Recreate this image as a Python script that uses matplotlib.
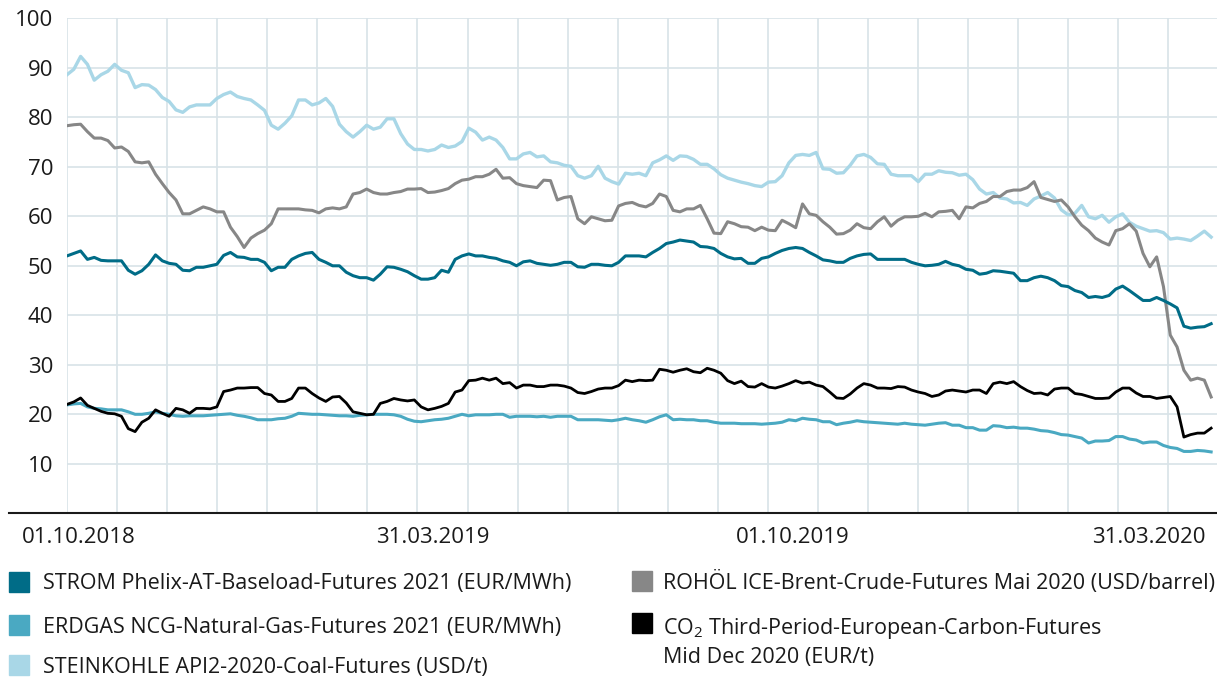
import matplotlib
matplotlib.use("Agg")
import matplotlib.pyplot as plt
from matplotlib.patches import Rectangle
from matplotlib.lines import Line2D
import pandas as pd

# 字体
plt.rcParams["font.family"] = ["Open Sans", "DejaVu Sans"]
plt.rcParams["axes.unicode_minus"] = False

# Daten, halbwöchentlich
start = pd.Timestamp("2018-09-25")
end = pd.Timestamp("2020-05-02")
n_points = 169

kohle = [88.6, 89.7, 92.3, 90.7, 87.5, 88.6, 89.3, 90.7, 89.5, 89,
         86, 86.6, 86.5, 85.6, 84, 83.2, 81.5, 81, 82.1, 82.5,
         82.5, 82.5, 83.8, 84.6, 85.1, 84.2, 83.8, 83.5, 82.5, 81.4,
         78.4, 77.6, 78.8, 80.3, 83.5, 83.5, 82.5, 82.9, 83.8, 82.2,
         78.6, 77.1, 76, 77.1, 78.4, 77.6, 78, 79.7, 79.7, 76.7,
         74.6, 73.5, 73.5, 73.2, 73.5, 74.4, 73.9, 74.2, 75.1, 77.8,
         77, 75.4, 76, 75.4, 73.9, 71.6, 71.6, 72.6, 72.9, 72,
         72.2, 71, 70.8, 70.3, 70.1, 68.2, 67.7, 68.2, 70.1, 67.7,
         67, 66.5, 68.7, 68.5, 68.7, 68.2, 70.8, 71.4, 72.2, 71.3,
         72.2, 72.1, 71.5, 70.5, 70.5, 69.6, 68.4, 67.7, 67.3, 66.9,
         66.6, 66.2, 66, 66.9, 67, 68.2, 70.8, 72.3, 72.5, 72.3,
         72.9, 69.6, 69.5, 68.7, 68.8, 70.3, 72.2, 72.5, 71.9, 70.6,
         70.5, 68.5, 68.2, 68.2, 68.2, 67, 68.5, 68.5, 69.2, 68.9,
         68.8, 68.3, 68.5, 67.4, 65.5, 64.5, 64.8, 63.7, 63.5, 62.7,
         62.8, 62.2, 63.5, 64.1, 64.8, 63.7, 61.3, 60.3, 60.6, 62.2,
         59.9, 59.5, 60.2, 58.8, 59.9, 60.5, 58.8, 58, 57.5, 57,
         57.1, 56.7, 55.4, 55.6, 55.4, 55.1, 56, 57, 55.8]
brent = [78.3, 78.5, 78.6, 77.1, 75.8, 75.8, 75.3, 73.8, 74, 73.1,
         71, 70.8, 71, 68.5, 66.6, 64.8, 63.3, 60.5, 60.5, 61.2,
         61.9, 61.5, 60.9, 60.9, 57.8, 55.9, 53.7, 55.6, 56.5, 57.2,
         58.5, 61.5, 61.5, 61.5, 61.5, 61.3, 61.2, 60.7, 61.5, 61.7,
         61.5, 61.9, 64.5, 64.8, 65.5, 64.8, 64.5, 64.5, 64.8, 65,
         65.5, 65.5, 65.6, 64.8, 64.9, 65.2, 65.6, 66.6, 67.3, 67.5,
         68, 68, 68.5, 69.5, 67.7, 67.8, 66.6, 66.2, 66, 65.8,
         67.3, 67.2, 63.3, 63.8, 64, 59.5, 58.5, 59.9, 59.5, 59.1,
         59.2, 62.1, 62.6, 62.8, 62.2, 61.9, 62.6, 64.5, 64, 61.2,
         60.9, 61.5, 61.5, 62.2, 59.5, 56.6, 56.5, 58.9, 58.5, 57.9,
         57.8, 57.1, 57.8, 57.2, 57.1, 59.2, 58.5, 57.7, 62.5, 60.5,
         60.2, 58.9, 57.8, 56.4, 56.5, 57.2, 58.5, 57.7, 57.5, 58.9,
         59.9, 58, 59.2, 59.9, 59.9, 60, 60.6, 59.9, 60.9, 61,
         61.2, 59.5, 61.9, 61.7, 62.6, 63, 64, 64, 65, 65.3,
         65.3, 65.8, 67, 63.8, 63.4, 63, 63.3, 61.9, 59.9, 58.2,
         57.1, 55.6, 54.8, 54.2, 57.1, 57.5, 58.5, 57, 52.5, 49.8,
         51.8, 45.8, 36, 33.6, 28.9, 26.9, 27.3, 26.9, 23.5]
strom = [52, 52.5, 53, 51.3, 51.7, 51.1, 51, 51, 51, 49.1,
         48.3, 49, 50.3, 52.2, 51, 50.5, 50.3, 49.1, 49, 49.7,
         49.7, 50, 50.3, 52.1, 52.7, 51.8, 51.7, 51.3, 51.3, 50.7,
         49, 49.7, 49.7, 51.3, 52, 52.5, 52.7, 51.3, 50.7, 50,
         50, 48.7, 48, 47.6, 47.6, 47.1, 48.3, 49.8, 49.7, 49.3,
         48.8, 48, 47.3, 47.3, 47.6, 49.1, 48.7, 51.3, 52, 52.4,
         52, 52, 51.7, 51.5, 51, 50.7, 50, 50.8, 51, 50.5,
         50.3, 50.1, 50.3, 50.7, 50.7, 49.8, 49.7, 50.3, 50.3, 50.1,
         50, 50.7, 52, 52, 52, 51.8, 52.7, 53.5, 54.5, 54.8,
         55.2, 55, 54.8, 53.9, 53.8, 53.5, 52.5, 51.8, 51.4, 51.5,
         50.5, 50.5, 51.5, 51.8, 52.5, 53.1, 53.5, 53.7, 53.5, 52.7,
         52, 51.2, 51, 50.7, 50.7, 51.5, 52, 52.3, 52.4, 51.3,
         51.3, 51.3, 51.3, 51.3, 50.7, 50.3, 50, 50.1, 50.3, 50.9,
         50.3, 50, 49.3, 49.1, 48.3, 48.5, 49, 48.9, 48.7, 48.5,
         47, 47, 47.6, 47.9, 47.6, 47, 46, 45.8, 45, 44.6,
         43.6, 43.8, 43.6, 44, 45.3, 45.9, 45, 44, 43, 43,
         43.6, 43, 42.3, 41.5, 37.8, 37.4, 37.6, 37.7, 38.3]
erdgas = [21.9, 22.1, 22.2, 21.5, 21.2, 21.1, 20.9, 20.9, 20.9, 20.5,
          20, 20, 20.2, 20.5, 20.2, 20, 19.7, 19.6, 19.7, 19.7,
          19.7, 19.8, 19.9, 20, 20.1, 19.8, 19.6, 19.3, 18.9, 18.9,
          18.9, 19.1, 19.2, 19.6, 20.2, 20.1, 20, 20, 19.9, 19.8,
          19.7, 19.7, 19.6, 19.8, 19.9, 20, 20, 20, 19.9, 19.6,
          19, 18.6, 18.5, 18.7, 18.9, 19, 19.2, 19.6, 20, 19.7,
          19.9, 19.9, 19.9, 20, 20, 19.4, 19.6, 19.6, 19.6, 19.5,
          19.6, 19.4, 19.6, 19.6, 19.6, 18.9, 18.9, 18.9, 18.9, 18.8,
          18.7, 18.9, 19.2, 18.9, 18.7, 18.4, 18.9, 19.5, 19.9, 18.9,
          19, 18.9, 18.9, 18.7, 18.7, 18.4, 18.2, 18.2, 18.2, 18.1,
          18.1, 18.1, 18, 18.1, 18.2, 18.4, 18.9, 18.7, 19.2, 19,
          18.9, 18.5, 18.5, 17.9, 18.2, 18.4, 18.7, 18.5, 18.4, 18.3,
          18.2, 18.1, 18, 18.2, 18, 17.9, 17.8, 18, 18.2, 18.3,
          17.8, 17.8, 17.3, 17.3, 16.8, 16.8, 17.7, 17.6, 17.3, 17.4,
          17.2, 17.2, 17, 16.7, 16.6, 16.3, 15.9, 15.8, 15.5, 15.2,
          14.2, 14.6, 14.6, 14.7, 15.5, 15.5, 15, 14.8, 14.2, 14.4,
          14.4, 13.7, 13.3, 13.1, 12.5, 12.5, 12.7, 12.6, 12.4]
co2 = [22, 22.5, 23.3, 21.8, 21.2, 20.6, 20.2, 20.1, 19.6, 17.1,
       16.5, 18.4, 19.2, 20.9, 20.2, 19.6, 21.2, 20.9, 20.2, 21.2,
       21.2, 21.1, 21.5, 24.6, 24.9, 25.3, 25.3, 25.4, 25.4, 24.2,
       23.9, 22.6, 22.6, 23.2, 25.3, 25.3, 24.2, 23.3, 22.6, 23.5,
       23.6, 22.3, 20.5, 20.2, 19.9, 20, 22.2, 22.6, 23.2, 22.9,
       22.7, 22.9, 21.5, 20.9, 21.2, 21.6, 22.2, 24.5, 24.9, 26.8,
       26.9, 27.3, 26.9, 27.3, 26.2, 26.4, 25.3, 25.9, 25.9, 25.6,
       25.6, 25.9, 25.9, 25.7, 25.3, 24.4, 24.2, 24.6, 25.1, 25.3,
       25.3, 25.8, 26.9, 26.6, 26.9, 26.8, 26.9, 29.1, 28.9, 28.5,
       28.9, 29.2, 28.6, 28.4, 29.3, 28.9, 28.3, 26.8, 26.2, 26.7,
       25.6, 25.5, 26.2, 25.5, 25.3, 25.7, 26.2, 26.8, 26.3, 26.5,
       25.9, 25.6, 24.5, 23.3, 23.2, 24.1, 25.3, 26.2, 25.9, 25.3,
       25.3, 25.2, 25.6, 25.5, 24.9, 24.5, 24.2, 23.6, 23.9, 24.7,
       24.9, 24.7, 24.5, 24.9, 24.9, 24.2, 26.2, 26.5, 26.2, 26.6,
       25.6, 24.8, 24.2, 24.3, 23.9, 25.1, 25.3, 25.3, 24.2, 24,
       23.6, 23.2, 23.2, 23.3, 24.5, 25.3, 25.3, 24.3, 23.6, 23.6,
       23.2, 23.4, 23.6, 21.5, 15.4, 15.9, 16.2, 16.2, 17.2]

tick_dates = ["2018-10-01", "2019-03-31", "2019-10-01", "2020-03-31"]
tick_labels = ["01.10.2018", "31.03.2019", "01.10.2019", "31.03.2020"]
y_ticks = [10, 20, 30, 40, 50, 60, 70, 80, 90, 100]

labels = ["STROM Phelix-AT-Baseload-Futures 2021 (EUR/MWh)",
          "ERDGAS NCG-Natural-Gas-Futures 2021 (EUR/MWh)",
          "STEINKOHLE API2-2020-Coal-Futures (USD/t)",
          "ROHÖL ICE-Brent-Crude-Futures Mai 2020 (USD/barrel)",
          "CO$_\\mathregular{2}$ Third-Period-European-Carbon-Futures\nMid Dec 2020 (EUR/t)"]
colors = ["#006c87", "#4aa9c2", "#a9d7e7", "#878787", "#000000"]

dates = pd.date_range(start, end, periods=n_points)

W, H = 1217, 683
fig = plt.figure(figsize=(W / 100, H / 100), dpi=100)
ax = fig.add_axes([67 / W, 1 - 513.3 / H, (W - 67) / W, (513.3 - 18.3) / H])

grid_c = "#d8e3e8"
# vertikale Gitterlinien alle ~25,6 Tage
for i in range(23):
    ax.axvline(start + pd.Timedelta(days=25.6 * i), color=grid_c, lw=1.2, zorder=0)
for gy in y_ticks:
    ax.axhline(gy, color=grid_c, lw=1.2, zorder=0)

ax.plot(dates, kohle, color=colors[2], lw=2.4, zorder=2)
ax.plot(dates, brent, color=colors[3], lw=2.2, zorder=3)
ax.plot(dates, strom, color=colors[0], lw=2.2, zorder=4)
ax.plot(dates, erdgas, color=colors[1], lw=2.2, zorder=4)
ax.plot(dates, co2, color=colors[4], lw=2.0, zorder=5)

ax.set_xlim(start, start + pd.Timedelta(days=588))
ax.set_ylim(0, 100)
for s in ax.spines.values():
    s.set_visible(False)

ax.set_yticks(y_ticks)
ax.set_yticklabels([str(v) for v in y_ticks])
ax.set_xticks(pd.to_datetime(tick_dates))
ax.set_xticklabels(tick_labels)
ax.tick_params(axis="both", length=0, labelsize=16, colors="#1a1a1a")
ax.tick_params(axis="y", pad=10)
ax.tick_params(axis="x", pad=10)

# x-Achse (schwarz, reicht nach links)
fig.add_artist(Line2D([9 / W, 1], [1 - 513.3 / H] * 2, color="#1a1a1a", lw=1.5,
                      transform=fig.transFigure))

# Legende
box_pos = [(9, 582), (9, 625), (9, 665), (632, 581), (632, 623)]
text_pos = [(43, 584), (43, 627), (43, 667), (663, 583), (663, 642)]
for (bx, by), (tx, ty), lab, c in zip(box_pos, text_pos, labels, colors):
    fig.add_artist(Rectangle((bx / W, 1 - (by + 10) / H), 20 / W, 20 / H, color=c,
                             transform=fig.transFigure))
    fig.text(tx / W, 1 - ty / H, lab, fontsize=15.5, color="#1a1a1a",
             va="center", linespacing=1.35)

fig.savefig("out.png", dpi=100)
